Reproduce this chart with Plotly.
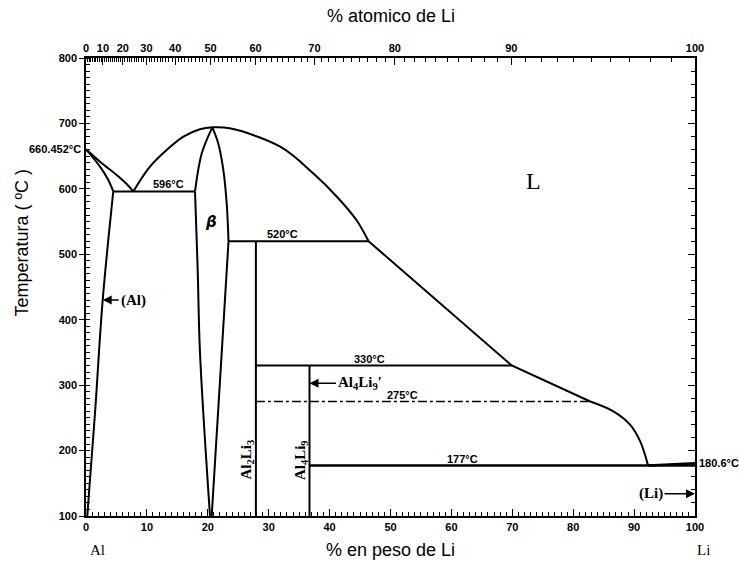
import numpy as np
import plotly.graph_objects as go

# Atomic masses used to convert atomic % Li into weight % Li (top axis)
M_LI = 6.941
M_AL = 26.98154

# Top-axis tick labels (atomic % Li)
at_major = [0, 10, 20, 30, 40, 50, 60, 70, 80, 90, 100]
at_minor = list(range(0, 101))

# Phase boundaries: x = weight % Li, T = temperature (°C)
al_liq_x = [0.0, 2.3, 5.04, 6.68, 7.77]
al_liq_t = [660.452, 641.5, 621.2, 607.4, 596]

al_sol_x = [0.0, 2.3, 3.66, 4.48]
al_sol_t = [660.452, 633.9, 613.5, 596]

al_solvus_x = [4.48, 2.74, 1.48, 0.21]
al_solvus_t = [596, 430, 257.4, 100]

eut_x = [4.48, 17.9]
eut_t = [596, 596]

# liquidus through the congruent maximum of beta, eutectic to 520 °C
liq_top_x = [7.77, 10.5, 13.25, 16.0, 18.7, 20.74, 23.6, 31.9, 37.3, 41.2, 44.4, 46.4]
liq_top_t = [596, 634, 659.4, 679.7, 691, 694, 692.5, 664.4, 623.8, 588.0, 552.4, 520]

liq_mid_x = [46.4, 69.9, 82.8]
liq_mid_t = [520, 330, 275]

liq_li_x = [82.8, 86.6, 89.3, 91.0, 92.3]
liq_li_t = [275, 260, 240, 214, 177]

beta_left_up_x = [17.9, 19.0, 20.74]
beta_left_up_t = [596, 654, 694]

beta_left_low_x = [17.9, 18.34, 18.72, 20.36]
beta_left_low_t = [596, 476, 349, 100]

beta_right_up_x = [20.74, 21.7, 22.55, 23.1, 23.4]
beta_right_up_t = [694, 670, 629, 578, 520]

beta_right_low_x = [23.4, 22.28, 20.64]
beta_right_low_t = [520, 349, 100]

per_520_x = [23.4, 46.4]
per_520_t = [520, 520]

al2li3_x = [27.9, 27.9]
al2li3_t = [520, 100]

al4li9_x = [36.7, 36.7]
al4li9_t = [330, 100]

per_330_x = [27.9, 69.9]
per_330_t = [330, 330]

trans_275_x = [27.9, 82.8]
trans_275_t = [275, 275]

eut_177_x = [36.7, 92.3, 100]
eut_177_t = [177, 177, 177]

li_liq_x = [92.3, 100]
li_liq_t = [177, 180.6]


def at_to_wt(a):
    a = np.asarray(a, dtype=float)
    return 100 * a * M_LI / (a * M_LI + (100 - a) * M_AL)


fig = go.Figure()


def add_line(x, t, dash=None, width=2, smooth=False):
    fig.add_trace(go.Scatter(
        x=x, y=t, mode="lines",
        line=dict(color="black", width=width, dash=dash,
                  shape="spline" if smooth else "linear", smoothing=1.0),
        hoverinfo="skip", showlegend=False,
    ))


add_line(al_liq_x, al_liq_t, smooth=True)
add_line(al_sol_x, al_sol_t, smooth=True)
add_line(al_solvus_x, al_solvus_t, smooth=True)
add_line(eut_x, eut_t)
add_line(liq_top_x, liq_top_t, smooth=True)
add_line(liq_mid_x, liq_mid_t)
add_line(liq_li_x, liq_li_t, smooth=True)
add_line(beta_left_up_x, beta_left_up_t, smooth=True)
add_line(beta_left_low_x, beta_left_low_t, smooth=True)
add_line(beta_right_up_x, beta_right_up_t, smooth=True)
add_line(beta_right_low_x, beta_right_low_t, smooth=True)
add_line(per_520_x, per_520_t)
add_line(al2li3_x, al2li3_t)
add_line(al4li9_x, al4li9_t)
add_line(per_330_x, per_330_t)
add_line(trans_275_x, trans_275_t, dash="dashdot", width=1.5)
add_line(eut_177_x, eut_177_t, width=2.5)
add_line(li_liq_x, li_liq_t, width=2.5)

# invisible trace to activate the top (atomic %) axis
fig.add_trace(go.Scatter(x=[0, 100], y=[100, 100], xaxis="x2", mode="lines",
                         line=dict(width=0), hoverinfo="skip", showlegend=False))
# invisible trace to activate the right temperature axis
fig.add_trace(go.Scatter(x=[0, 100], y=[100, 100], yaxis="y2", mode="lines",
                         line=dict(width=0), hoverinfo="skip", showlegend=False))

tick_font = dict(family="Liberation Sans", size=11, color="black", weight="bold")
label_font = dict(family="Liberation Sans", size=11, color="black", weight="bold")
serif_font = dict(family="Liberation Serif", size=15, color="black", weight="bold")
title_font = dict(family="Liberation Sans", size=18, color="black")

fig.update_layout(
    width=739, height=563,
    margin=dict(l=86, r=44, t=58, b=47),
    paper_bgcolor="white", plot_bgcolor="white",
    showlegend=False,
    xaxis=dict(
        range=[0, 100], tickvals=list(range(0, 101, 10)),
        ticks="inside", ticklen=7, tickwidth=1.2, tickcolor="black",
        minor=dict(dtick=1, ticks="inside", ticklen=4, tickcolor="black", tickwidth=1),
        showline=True, linecolor="black", linewidth=1.5,
        showgrid=False, zeroline=False, tickfont=tick_font,
    ),
    xaxis2=dict(
        overlaying="x", side="top", range=[0, 100],
        tickmode="array", tickvals=list(at_to_wt(at_major)),
        ticktext=[str(v) for v in at_major],
        ticks="inside", ticklen=7, tickwidth=1.2, tickcolor="black",
        minor=dict(tickmode="array", tickvals=list(at_to_wt(at_minor)),
                   ticks="inside", ticklen=4, tickcolor="black", tickwidth=1),
        showline=True, linecolor="black", linewidth=1.5,
        showgrid=False, zeroline=False, tickfont=tick_font,
    ),
    yaxis=dict(
        range=[100, 800], tickvals=list(range(100, 801, 100)),
        ticks="outside", ticklen=5, tickwidth=1.2, tickcolor="black",
        minor=dict(dtick=10, ticks="inside", ticklen=4, tickcolor="black", tickwidth=1),
        showline=True, linecolor="black", linewidth=1.5,
        showgrid=False, zeroline=False, tickfont=tick_font,
    ),
    yaxis2=dict(
        overlaying="y", side="right", range=[100, 800],
        tickvals=list(range(100, 801, 100)), showticklabels=False,
        ticks="inside", ticklen=7, tickwidth=1.2, tickcolor="black",
        minor=dict(dtick=20, ticks="inside", ticklen=4, tickcolor="black", tickwidth=1),
        showline=True, linecolor="black", linewidth=1.5,
        showgrid=False, zeroline=False,
    ),
)

ann = []
# axis titles
ann.append(dict(text="% atomico de Li", xref="paper", yref="paper", x=0.5, y=1.0,
                yanchor="bottom", yshift=30, showarrow=False, font=title_font))
ann.append(dict(text="% en peso de Li", xref="paper", yref="paper", x=0.5, y=0.0,
                yanchor="top", yshift=-22, showarrow=False, font=title_font))
ann.append(dict(text="Temperatura ( ºC )", xref="paper", yref="paper", x=0.0, y=0.597,
                xanchor="center", yanchor="middle", xshift=-64, textangle=-90,
                showarrow=False, font=title_font))
ann.append(dict(text="Al", xref="paper", yref="paper", x=0.0, y=0.0, xshift=11,
                xanchor="center", yanchor="top", yshift=-24, showarrow=False,
                font=dict(family="Liberation Serif", size=15, color="black")))
ann.append(dict(text="Li", xref="paper", yref="paper", x=1.0, y=0.0, xshift=8,
                xanchor="center", yanchor="top", yshift=-24, showarrow=False,
                font=dict(family="Liberation Serif", size=15, color="black")))

# temperature labels
ann.append(dict(text="660.452°C", xref="paper", yref="y", x=0.0, y=660.452, xshift=-3,
                xanchor="right", showarrow=False, font=label_font))
ann.append(dict(text="180.6°C", xref="paper", yref="y", x=1.0, y=180.6, xshift=2,
                xanchor="left", showarrow=False, font=label_font))
ann.append(dict(text="596°C", x=13.5, y=596, yanchor="bottom", yshift=-1, showarrow=False, font=label_font))
ann.append(dict(text="520°C", x=32.3, y=520, yanchor="bottom", yshift=-1, showarrow=False, font=label_font))
ann.append(dict(text="330°C", x=46.6, y=330, yanchor="bottom", yshift=-1, showarrow=False, font=label_font))
ann.append(dict(text="275°C", x=51.9, y=275, yanchor="bottom", yshift=-1, showarrow=False, font=label_font))
ann.append(dict(text="177°C", x=61.9, y=177, yanchor="bottom", yshift=-1, showarrow=False, font=label_font))

# phase labels
ann.append(dict(text="<i>β</i>", x=20.5, y=549, showarrow=False,
                font=dict(family="DejaVu Sans", size=15, color="black", weight="bold")))
ann.append(dict(text="L", x=73.4, y=612, showarrow=False,
                font=dict(family="Liberation Serif", size=24, color="black")))
ann.append(dict(text="Al<sub>2</sub>Li<sub>3</sub>", x=26.4, y=186, textangle=-90,
                showarrow=False, font=serif_font))
ann.append(dict(text="Al<sub>4</sub>Li<sub>9</sub>", x=35.2, y=186, textangle=-90,
                showarrow=False, font=serif_font))

# arrow labels
ann.append(dict(text="(Al)", x=2.74, y=430, ax=16, ay=0, axref="pixel", ayref="pixel",
                xanchor="left", showarrow=True, arrowhead=2, arrowsize=1.2, arrowwidth=1.5,
                arrowcolor="black", standoff=0, font=serif_font))
ann.append(dict(text="Al<sub>4</sub>Li<sub>9</sub>′", x=36.7, y=303, ax=50, ay=0,
                axref="pixel", ayref="pixel", showarrow=True, arrowhead=2, arrowsize=1.2,
                arrowwidth=1.5, arrowcolor="black", standoff=0, font=serif_font))
ann.append(dict(text="(Li)", x=100, y=134, ax=-44, ay=0, axref="pixel", ayref="pixel",
                showarrow=True, arrowhead=2, arrowsize=1.2, arrowwidth=1.5,
                arrowcolor="black", standoff=0, font=serif_font))

fig.update_layout(annotations=ann)

fig.write_html("out.html")
